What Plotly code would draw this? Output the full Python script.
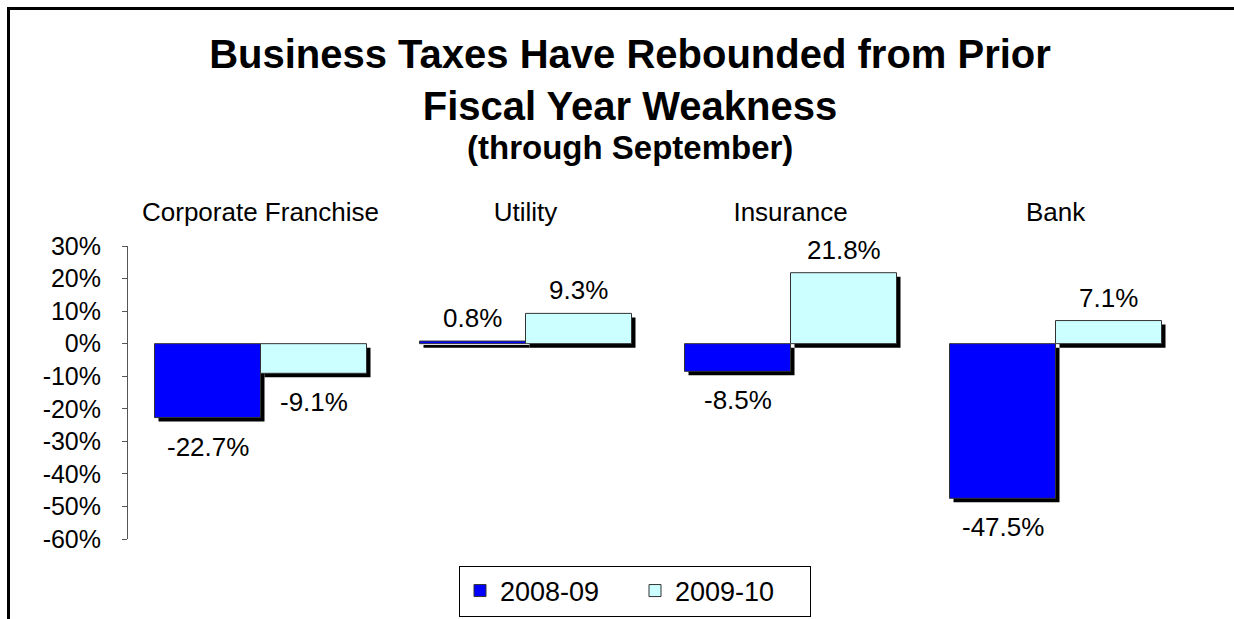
import plotly.graph_objects as go

# ---- data ----
categories = ["Corporate Franchise", "Utility", "Insurance", "Bank"]
series_names = ["2008-09", "2009-10"]
fy2008_09 = [-22.7, 0.8, -8.5, -47.5]
fy2009_10 = [-9.1, 9.3, 21.8, 7.1]
y_tick_vals = [30, 20, 10, 0, -10, -20, -30, -40, -50, -60]
y_tick_text = ["30%", "20%", "10%", "0%", "-10%", "-20%", "-30%", "-40%", "-50%", "-60%"]

# ---- layout geometry ----
W, H = 1234, 619
ML, MR, MT, MB = 128, 46, 246, 80
plot_w = W - ML - MR
plot_h = H - MT - MB
y_min, y_max = -60, 30
px_per_cat = plot_w / len(categories)
px_per_unit = plot_h / (y_max - y_min)

BAR_W = 0.4
SHADOW_PX = 4
dx = SHADOW_PX / px_per_cat
dy = SHADOW_PX / px_per_unit

FONT = "Liberation Sans, Arial, sans-serif"
colors = ["#0000FF", "#CCFFFF"]
series = [fy2008_09, fy2009_10]
offsets = [-BAR_W, 0.0]


def fmt(v):
    return f"{v:.1f}%"


fig = go.Figure()

# shadows
for vals, off in zip(series, offsets):
    fig.add_trace(go.Bar(
        x=categories, y=vals, base=-dy, offset=off + dx, width=BAR_W,
        marker=dict(color="black", line=dict(width=0)),
        showlegend=False, hoverinfo="skip",
    ))

# main bars
for name, vals, off, col in zip(series_names, series, offsets, colors):
    fig.add_trace(go.Bar(
        x=categories, y=vals, offset=off, width=BAR_W, name=name,
        marker=dict(color=col, line=dict(color="#333333", width=1)),
        cliponaxis=False,
    ))

# value labels
annotations = []
for vals, off in zip(series, offsets):
    for i, v in enumerate(vals):
        annotations.append(dict(
            x=i + off + BAR_W / 2, y=v, xref="x", yref="y",
            text=fmt(v), showarrow=False, xanchor="center", yanchor="middle",
            yshift=23 if v >= 0 else -29,
            font=dict(family=FONT, size=26, color="black"),
        ))

annotations.append(dict(
    text="<b>(through September)</b>", xref="paper", yref="paper",
    x=(630 - ML) / plot_w, y=1, yshift=MT - 147, xanchor="center", yanchor="middle",
    showarrow=False, font=dict(family=FONT, size=33, color="black"),
))

fig.update_layout(
    width=W, height=H,
    margin=dict(l=ML, r=MR, t=MT, b=MB),
    paper_bgcolor="white", plot_bgcolor="white",
    barmode="overlay",
    font=dict(family=FONT, size=25, color="black"),
    title=dict(
        text="<b>Business Taxes Have Rebounded from Prior<br>Fiscal Year Weakness</b>",
        font=dict(family=FONT, size=40, color="black"),
        x=630 / W, xref="container", xanchor="center",
        y=1 - 68 / H, yref="container", yanchor="top",
    ),
    xaxis=dict(
        type="category", range=[-0.5, len(categories) - 0.5],
        side="top", showline=False, ticks="", showgrid=False, zeroline=False,
        tickfont=dict(family=FONT, size=26, color="black"),
        ticklabelstandoff=19,
    ),
    xaxis2=dict(
        overlaying="x", anchor="free", position=(0 - y_min) / (y_max - y_min),
        range=[-0.5, len(categories) - 0.5],
        tickvals=[i - 0.5 for i in range(len(categories) + 1)],
        showticklabels=False, showline=True, linecolor="#555555", linewidth=1,
        ticks="outside", ticklen=7, tickcolor="#555555", tickwidth=1,
        showgrid=False, zeroline=False, side="bottom",
    ),
    yaxis=dict(
        range=[y_min, y_max], tickvals=y_tick_vals, ticktext=y_tick_text,
        showline=True, linecolor="#555555", linewidth=1,
        ticks="outside", ticklen=5, tickcolor="#555555",
        showgrid=False, zeroline=False,
        tickfont=dict(family=FONT, size=25, color="black"),
        ticklabelstandoff=16,
    ),
    legend=dict(
        orientation="h", xref="container", yref="container",
        x=635 / W, xanchor="center", y=1 - 591 / H, yanchor="middle",
        bordercolor="black", borderwidth=1, bgcolor="white",
        font=dict(family=FONT, size=27, color="black"),
        entrywidth=130, tracegroupgap=0,
    ),
    annotations=annotations,
    shapes=[dict(
        type="rect", xref="paper", yref="paper",
        x0=(8.5 - ML) / plot_w, x1=(W + 60 - ML) / plot_w,
        y0=-(MB + 40) / plot_h, y1=(H - 8.5 - MB) / plot_h,
        line=dict(color="black", width=3), fillcolor="rgba(0,0,0,0)", layer="below",
    )],
)

fig.write_html("out.html")
